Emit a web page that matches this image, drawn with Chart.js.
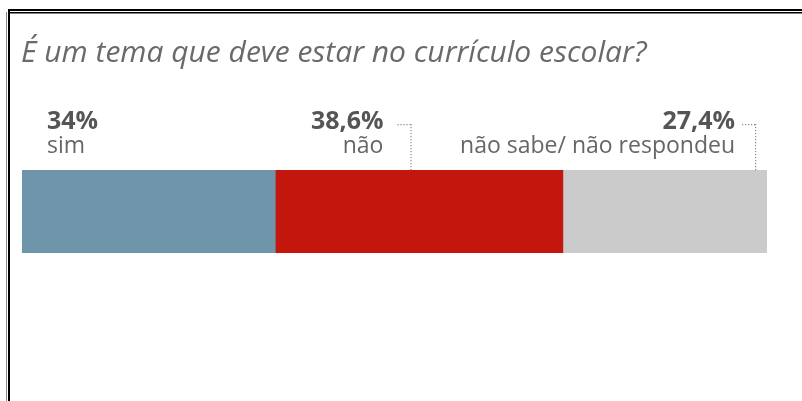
<!DOCTYPE html>
<html><head><meta charset="utf-8">
<script src="https://cdn.jsdelivr.net/npm/chart.js@4/dist/chart.umd.min.js"></script>
<style>html,body{margin:0;padding:0;background:#fff}canvas{display:block}</style>
</head><body>
<canvas id="c" width="802" height="401"></canvas>
<script>
const title = "É um tema que deve estar no currículo escolar?";
const categories = ["sim", "não", "não sabe/ não respondeu"];
const values = [34, 38.6, 27.4];
const valueLabels = ["34%", "38,6%", "27,4%"];
const colors = ["#6f95aa", "#c3170e", "#cbcbcb"];

const overlay = {
  id: 'overlay',
  afterDraw(chart) {
    const ctx = chart.ctx;
    ctx.save();
    // frame
    ctx.fillStyle = '#000';
    ctx.fillRect(8, 9, 794, 2);
    ctx.fillRect(8, 12, 794, 1.5);
    ctx.fillRect(8, 9, 2, 392);
    ctx.fillStyle = '#888';
    ctx.fillRect(6, 12, 1, 389);
    // title
    ctx.fillStyle = '#6a6a6a';
    ctx.font = 'italic 30px "Open Sans"';
    ctx.textBaseline = 'alphabetic';
    ctx.textAlign = 'left';
    ctx.fillText(title, 21, 62);
    const x = chart.scales.x;
    const area = chart.chartArea;
    let acc = 0;
    values.forEach((v, i) => {
      const x0 = x.getPixelForValue(acc);
      const x1 = x.getPixelForValue(acc + v);
      acc += v;
      let tx, align, lx = null, gap = 0;
      if (i === 0) { tx = x0 + 25; align = 'left'; }
      else if (i === 1) { lx = x0 + (x1 - x0) * 0.47; tx = lx - 27; align = 'right'; gap = 14; }
      else { lx = x1 - 12; tx = lx - 20; align = 'right'; gap = 7; }
      ctx.textAlign = align;
      ctx.fillStyle = '#555';
      ctx.font = 'bold 25px "Open Sans"';
      ctx.fillText(valueLabels[i], tx, 129);
      ctx.fillStyle = '#666';
      ctx.font = '23px "Open Sans"';
      ctx.fillText(categories[i], tx, 153);
      if (lx !== null) {
        ctx.fillStyle = '#888';
        for (let xx = tx + gap; xx < lx; xx += 3) ctx.fillRect(xx, 124, 1.2, 1.2);
        for (let yy = 124; yy < area.top; yy += 3) ctx.fillRect(lx, yy, 1.2, 1.2);
      }
    });
    ctx.restore();
  }
};

new Chart(document.getElementById('c'), {
  type: 'bar',
  data: {
    labels: [''],
    datasets: categories.map((c, i) => ({
      label: c,
      data: [values[i]],
      backgroundColor: colors[i],
      borderWidth: 0,
      barPercentage: 1,
      categoryPercentage: 1
    }))
  },
  options: {
    indexAxis: 'y',
    responsive: false,
    animation: false,
    layout: { padding: { left: 22, right: 35, top: 170, bottom: 148 } },
    plugins: { legend: { display: false }, tooltip: { enabled: false }, title: { display: false } },
    scales: {
      x: { stacked: true, min: 0, max: 100, display: false },
      y: { stacked: true, display: false }
    }
  },
  plugins: [overlay]
});
</script>
</body></html>
